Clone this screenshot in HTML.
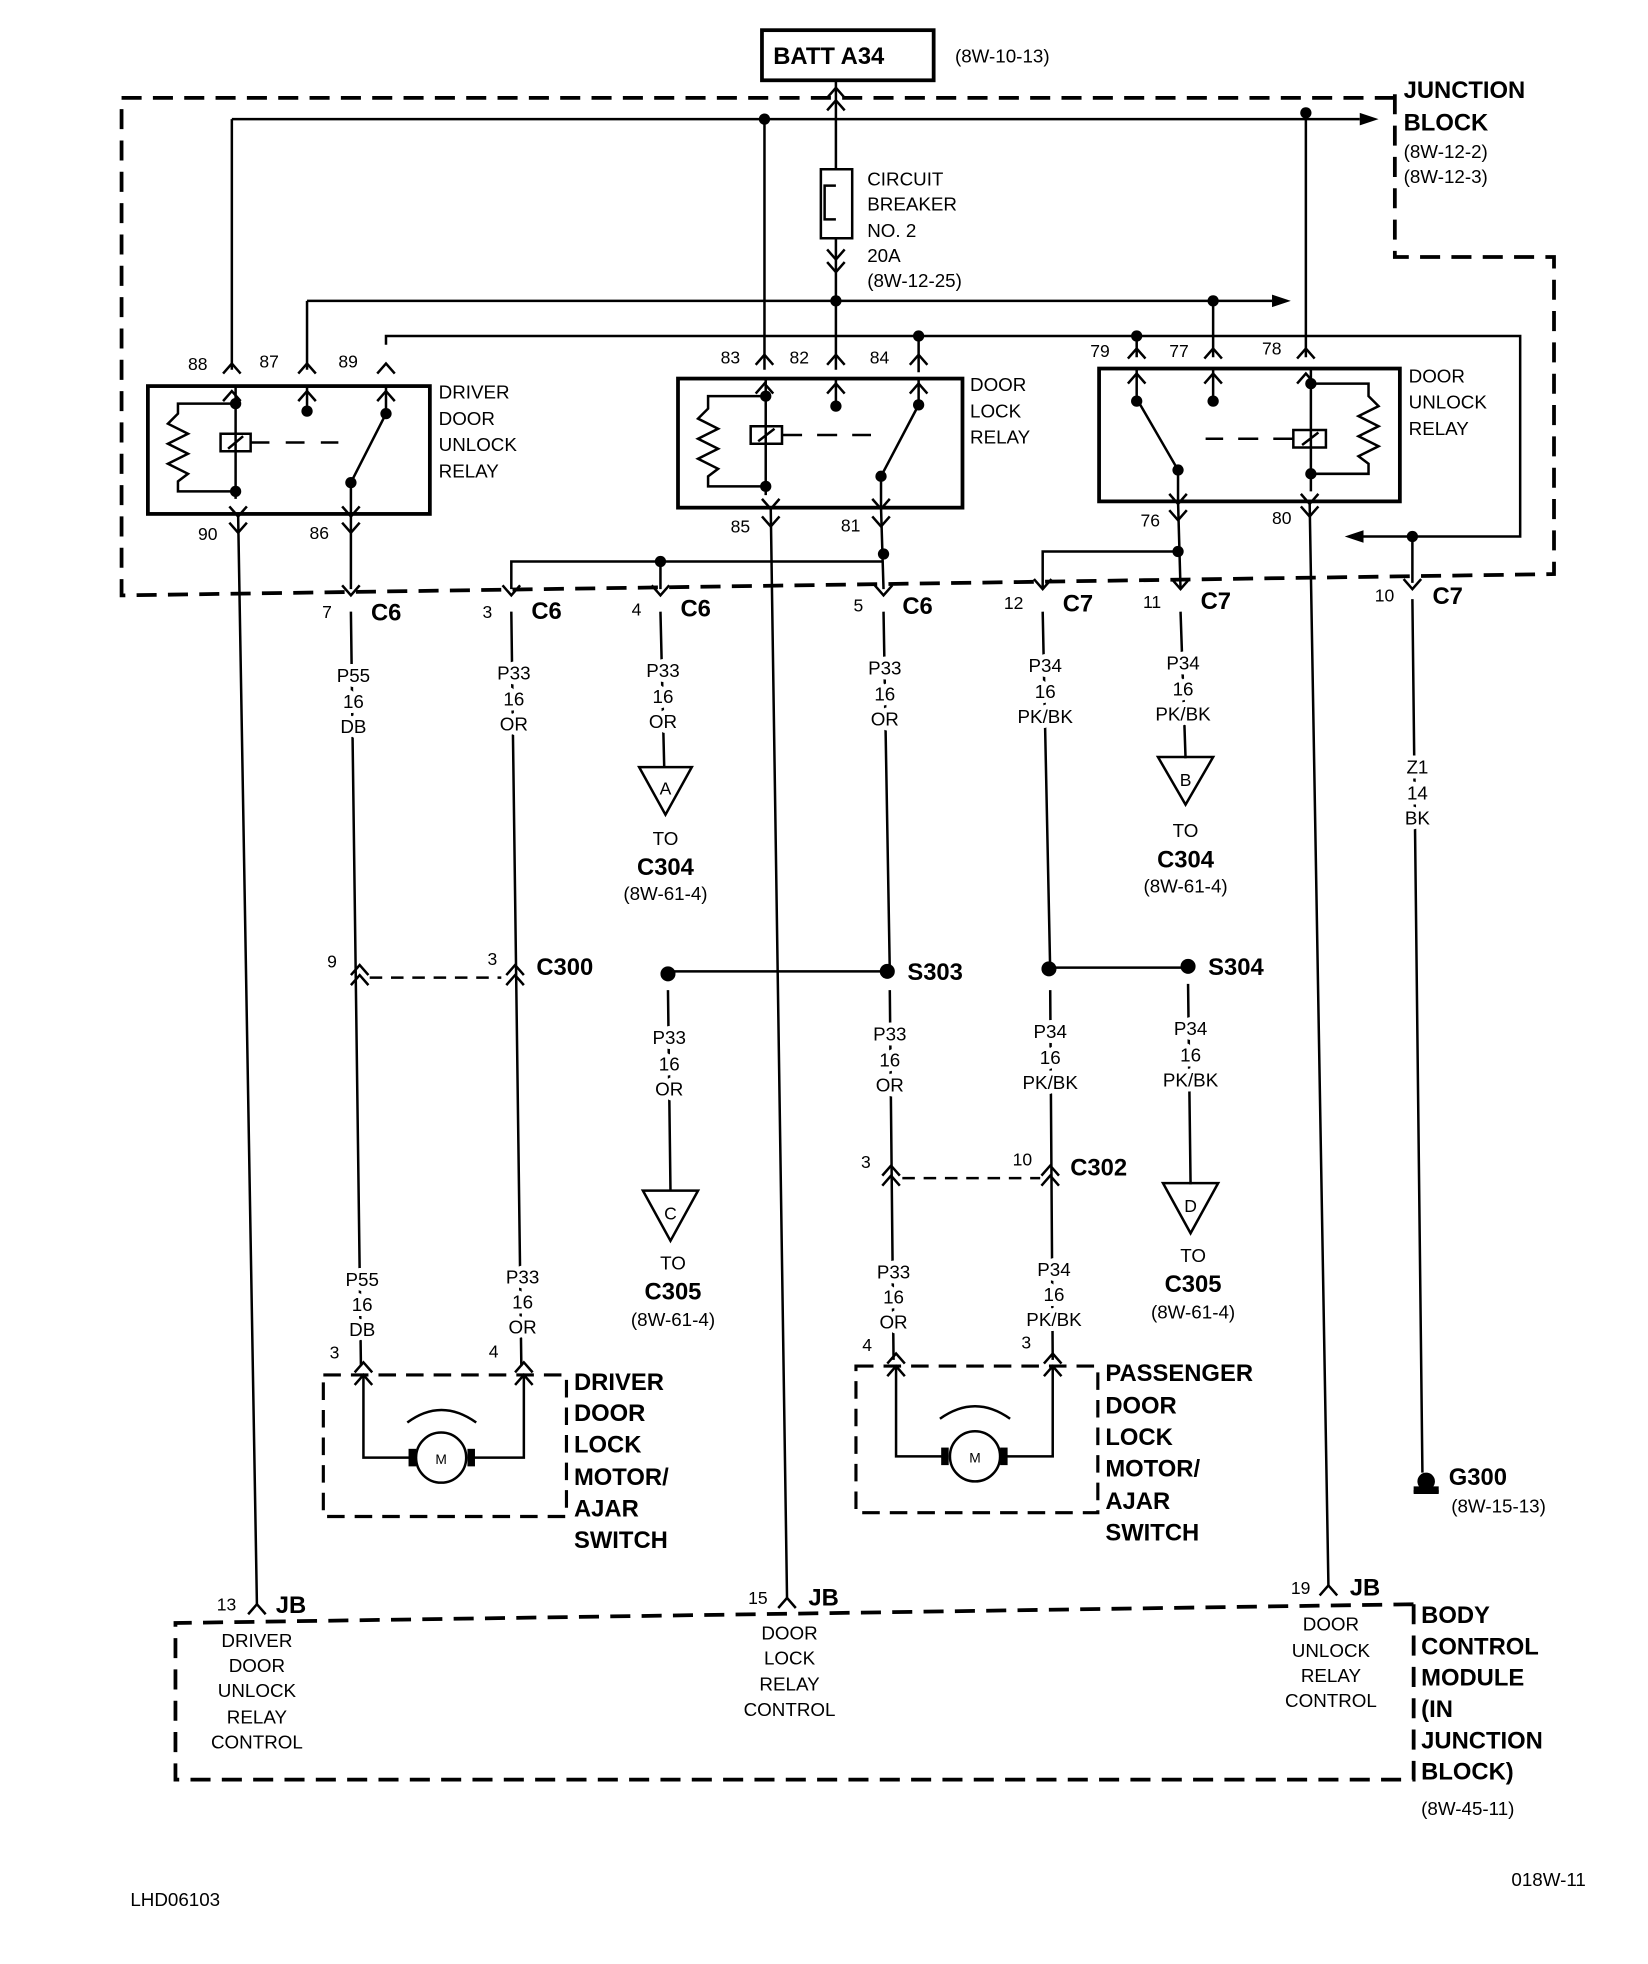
<!DOCTYPE html>
<html><head><meta charset="utf-8"><style>
html,body{margin:0;padding:0;background:#fff}
svg{display:block}
text{font-family:"Liberation Sans",Arial,sans-serif;fill:#000}
.s{font-size:15px}
.b{font-size:19px;font-weight:bold}
.p{font-size:14px}
.w text{paint-order:stroke;stroke:#fff;stroke-width:8px;stroke-linejoin:round}
</style></head><body>
<svg width="1648" height="1964" viewBox="0 0 1315 1567" xmlns="http://www.w3.org/2000/svg">
<defs>
<path id="v" d="M-7,-8 L0,0 L7,-8" fill="none" stroke="#000" stroke-width="2"/>
<path id="u" d="M-7,8 L0,0 L7,8" fill="none" stroke="#000" stroke-width="2"/>
</defs>
<g fill="none" stroke="#000" stroke-width="2">
<rect x="608" y="24" width="137" height="40" stroke-width="3"/>
<path d="M1113,78 L97,78 L97,475 L1240,458 L1240,205 L1113,205 L1113,70" stroke-width="3" stroke-dasharray="16,9"/>
<path d="M185,95 L1085,95 M185,95 L185,295 M610,95 L610,295 M1042,95 L1042,285"/>
<path d="M667,64 L667,135 M667,190 L667,295 M245,240 L1015,240 M245,240 L245,295 M968,240 L968,285"/>
<path d="M655,135 L680,135 L680,190 L655,190 Z M667,148 L658,148 L658,175 L667,175" />
<path d="M308,275 L308,268 L1213,268 L1213,428 L1085,428 M733,268 L733,297 M907,268 L907,285"/>
<rect x="118" y="308" width="225" height="102" stroke-width="3"/>
<rect x="541" y="302" width="227" height="103" stroke-width="3"/>
<rect x="877" y="294" width="240" height="106" stroke-width="3"/>
<path d="M188,308 L188,398 M188,322 L142,322 L142,330 L134,338 L150,346 L134,354 L150,362 L134,370 L150,378 L142,384 L142,392 L188,392 M176,346 L200,346 L200,360 L176,360 Z M182,358 L194,348 M200,353 L215,353 M228,353 L243,353 M256,353 L270,353 M245,308 L245,328 M308,308 L308,330 L280,385 L280,410"/>
<path d="M611,302 L611,395 M611,316 L565,316 L565,326 L557,334 L573,342 L557,350 L573,358 L557,366 L573,374 L565,380 L565,388 L611,388 M599,340 L624,340 L624,354 L599,354 Z M605,352 L618,342 M624,347 L640,347 M652,347 L668,347 M680,347 L695,347 M667,302 L667,322 M733,302 L733,323 L703,380 L703,405"/>
<path d="M1046,294 L1046,392 M1046,306 L1092,306 L1092,316 L1100,324 L1084,332 L1100,340 L1084,348 L1100,356 L1084,364 L1092,370 L1092,378 L1046,378 M1032,343 L1058,343 L1058,357 L1032,357 Z M1039,355 L1052,345 M1032,350 L1016,350 M1004,350 L988,350 M976,350 L962,350 M968,294 L968,318 M907,294 L907,318 L940,375 L940,400"/>
<path d="M190,410 L205,1280 M280,410 L280,470 M615,405 L628,1275 M703,405 L705,470 M1045,400 L1060,1265 M940,400 L942,470"/>
<path d="M408,470 L408,448 L705,448 M527,448 L527,470 M832,470 L832,440 L940,440 M1127,428 L1127,465"/>
<path d="M280,488 L288,1090 M408,488 L416,1090 M527,488 L530,612 M705,488 L710,775 M832,488 L838,775 M942,488 L946,605 M1127,478 L1135,1175"/>
<path d="M295,780 L400,780" stroke-dasharray="10,7"/>
<path d="M533,775 L710,775 M838,772 L948,772 M533,790 L535,950 M710,790 L713,1085 M838,790 L840,1085 M948,785 L950,945"/>
<path d="M720,940 L830,940" stroke-dasharray="10,7"/>
<path d="M510,612 L552,612 L531,650 Z M924,604 L968,604 L946,642 Z M513,950 L557,950 L535,990 Z M928,944 L972,944 L950,984 Z"/>
<path d="M258,1097 L452,1097 L452,1210 L258,1210 Z M683,1090 L876,1090 L876,1207 L683,1207 Z" stroke-dasharray="14,8" stroke-width="2.5"/>
<path d="M290,1097 L290,1163 L330,1163 M375,1163 L418,1163 L418,1097"/>
<path d="M715,1090 L715,1162 L755,1162 M800,1162 L840,1162 L840,1090"/>
<path d="M325,1135 Q352,1115 380,1135 M750,1132 Q778,1112 806,1132"/>
<path d="M1128,1280 L1128,1420 L140,1420 L140,1295 L1128,1280" stroke-dasharray="16,9" stroke-width="3"/>
<path d="M1128,1190 L1148,1190"/>
</g>
<g fill="#000">
<circle cx="610" cy="95" r="4.5"/><circle cx="1042" cy="90" r="4.5"/>
<circle cx="667" cy="240" r="4.5"/><circle cx="968" cy="240" r="4.5"/>
<circle cx="733" cy="268" r="4.5"/><circle cx="907" cy="268" r="4.5"/>
<circle cx="188" cy="322" r="4.5"/><circle cx="188" cy="392" r="4.5"/><circle cx="245" cy="328" r="4.5"/><circle cx="308" cy="330" r="4.5"/><circle cx="280" cy="385" r="4.5"/>
<circle cx="611" cy="316" r="4.5"/><circle cx="611" cy="388" r="4.5"/><circle cx="667" cy="324" r="4.5"/><circle cx="733" cy="323" r="4.5"/><circle cx="703" cy="380" r="4.5"/>
<circle cx="1046" cy="306" r="4.5"/><circle cx="1046" cy="378" r="4.5"/><circle cx="968" cy="320" r="4.5"/><circle cx="907" cy="320" r="4.5"/><circle cx="940" cy="375" r="4.5"/>
<circle cx="527" cy="448" r="4.5"/><circle cx="705" cy="442" r="4.5"/><circle cx="940" cy="440" r="4.5"/><circle cx="1127" cy="428" r="4.5"/>
<circle cx="533" cy="777" r="6"/><circle cx="708" cy="775" r="6"/><circle cx="837" cy="773" r="6"/><circle cx="948" cy="771" r="6"/>
<path d="M1085,90 L1100,95 L1085,100 Z M1015,235 L1030,240 L1015,245 Z M1088,423 L1073,428 L1088,433 Z"/>
<path d="M1128,1186 L1148,1186 L1148,1192 L1128,1192 Z" />
<circle cx="1138" cy="1182" r="7"/>
<rect x="326" y="1156" width="6" height="14"/><rect x="373" y="1156" width="6" height="14"/>
<rect x="751" y="1155" width="6" height="14"/><rect x="798" y="1155" width="6" height="14"/>
</g>
<circle cx="352" cy="1163" r="20" fill="#fff" stroke="#000" stroke-width="2"/>
<circle cx="778" cy="1162" r="20" fill="#fff" stroke="#000" stroke-width="2"/>
<g>
<use href="#u" x="667" y="70"/><use href="#u" x="667" y="80"/><use href="#v" x="667" y="207"/><use href="#v" x="667" y="217"/>
<use href="#u" x="185" y="290"/><use href="#u" x="245" y="290"/><use href="#u" x="308" y="290"/>
<use href="#u" x="185" y="312"/><use href="#u" x="245" y="312"/><use href="#u" x="308" y="312"/>
<use href="#u" x="610" y="283"/><use href="#u" x="667" y="283"/><use href="#u" x="733" y="283"/>
<use href="#u" x="610" y="306"/><use href="#u" x="667" y="306"/><use href="#u" x="733" y="306"/>
<use href="#u" x="907" y="278"/><use href="#u" x="968" y="278"/><use href="#u" x="1042" y="278"/>
<use href="#u" x="907" y="298"/><use href="#u" x="968" y="298"/><use href="#u" x="1042" y="298"/>
<use href="#v" x="190" y="412"/><use href="#v" x="280" y="412"/><use href="#v" x="190" y="425"/><use href="#v" x="280" y="425"/>
<use href="#v" x="615" y="406"/><use href="#v" x="703" y="406"/><use href="#v" x="615" y="420"/><use href="#v" x="703" y="420"/>
<use href="#v" x="940" y="402"/><use href="#v" x="1045" y="402"/><use href="#v" x="940" y="415"/><use href="#v" x="1045" y="412"/>
<use href="#v" x="280" y="475"/><use href="#v" x="408" y="475"/><use href="#v" x="527" y="475"/><use href="#v" x="705" y="475"/><use href="#v" x="832" y="470"/><use href="#v" x="942" y="470"/><use href="#v" x="1127" y="470"/>
<use href="#u" x="287" y="770"/><use href="#u" x="287" y="778"/><use href="#u" x="411" y="770"/><use href="#u" x="411" y="778"/>
<use href="#u" x="711" y="930"/><use href="#u" x="711" y="938"/><use href="#u" x="838" y="930"/><use href="#u" x="838" y="938"/>
<use href="#u" x="290" y="1087"/><use href="#u" x="290" y="1097"/><use href="#u" x="418" y="1087"/><use href="#u" x="418" y="1097"/>
<use href="#u" x="715" y="1080"/><use href="#u" x="715" y="1090"/><use href="#u" x="840" y="1080"/><use href="#u" x="840" y="1090"/>
<use href="#u" x="205" y="1280"/><use href="#u" x="628" y="1275"/><use href="#u" x="1060" y="1265"/>
</g>
<text class="b" x="617" y="51">BATT A34</text>
<text class="s" x="762" y="50">(8W-10-13)</text>
<text class="b" x="1120" y="78">JUNCTION</text><text class="b" x="1120" y="104">BLOCK</text>
<text class="s" x="1120" y="126">(8W-12-2)</text><text class="s" x="1120" y="146">(8W-12-3)</text>
<text class="s" x="692" y="148">CIRCUIT</text><text class="s" x="692" y="168">BREAKER</text><text class="s" x="692" y="189">NO. 2</text><text class="s" x="692" y="209">20A</text><text class="s" x="692" y="229">(8W-12-25)</text>
<text class="p" x="150" y="295">88</text><text class="p" x="207" y="293">87</text><text class="p" x="270" y="293">89</text>
<text class="p" x="575" y="290">83</text><text class="p" x="630" y="290">82</text><text class="p" x="694" y="290">84</text>
<text class="p" x="870" y="285">79</text><text class="p" x="933" y="285">77</text><text class="p" x="1007" y="283">78</text>
<text class="s" x="350" y="318">DRIVER</text><text class="s" x="350" y="339">DOOR</text><text class="s" x="350" y="360">UNLOCK</text><text class="s" x="350" y="381">RELAY</text>
<text class="s" x="774" y="312">DOOR</text><text class="s" x="774" y="333">LOCK</text><text class="s" x="774" y="354">RELAY</text>
<text class="s" x="1124" y="305">DOOR</text><text class="s" x="1124" y="326">UNLOCK</text><text class="s" x="1124" y="347">RELAY</text>
<text class="p" x="158" y="431">90</text><text class="p" x="247" y="430">86</text><text class="p" x="583" y="425">85</text><text class="p" x="671" y="424">81</text><text class="p" x="910" y="420">76</text><text class="p" x="1015" y="418">80</text>
<text class="p" x="257" y="493">7</text><text class="b" x="296" y="495">C6</text>
<text class="p" x="385" y="493">3</text><text class="b" x="424" y="494">C6</text>
<text class="p" x="504" y="491">4</text><text class="b" x="543" y="492">C6</text>
<text class="p" x="681" y="488">5</text><text class="b" x="720" y="490">C6</text>
<text class="p" x="801" y="486">12</text><text class="b" x="848" y="488">C7</text>
<text class="p" x="912" y="485">11</text><text class="b" x="958" y="486">C7</text>
<text class="p" x="1097" y="480">10</text><text class="b" x="1143" y="482">C7</text>
<g class="s w" text-anchor="middle">
<text x="282" y="544">P55</text><text x="282" y="565">16</text><text x="282" y="585">DB</text>
<text x="410" y="542">P33</text><text x="410" y="563">16</text><text x="410" y="583">OR</text>
<text x="529" y="540">P33</text><text x="529" y="561">16</text><text x="529" y="581">OR</text>
<text x="706" y="538">P33</text><text x="706" y="559">16</text><text x="706" y="579">OR</text>
<text x="834" y="536">P34</text><text x="834" y="557">16</text><text x="834" y="577">PK/BK</text>
<text x="944" y="534">P34</text><text x="944" y="555">16</text><text x="944" y="575">PK/BK</text>
<text x="1131" y="617">Z1</text><text x="1131" y="638">14</text><text x="1131" y="658">BK</text>
<text x="534" y="833">P33</text><text x="534" y="854">16</text><text x="534" y="874">OR</text>
<text x="710" y="830">P33</text><text x="710" y="851">16</text><text x="710" y="871">OR</text>
<text x="838" y="828">P34</text><text x="838" y="849">16</text><text x="838" y="869">PK/BK</text>
<text x="950" y="826">P34</text><text x="950" y="847">16</text><text x="950" y="867">PK/BK</text>
<text x="289" y="1026">P55</text><text x="289" y="1046">16</text><text x="289" y="1066">DB</text>
<text x="417" y="1024">P33</text><text x="417" y="1044">16</text><text x="417" y="1064">OR</text>
<text x="713" y="1020">P33</text><text x="713" y="1040">16</text><text x="713" y="1060">OR</text>
<text x="841" y="1018">P34</text><text x="841" y="1038">16</text><text x="841" y="1058">PK/BK</text>
</g>
<g class="s" text-anchor="middle">
<text x="531" y="634" class="p">A</text><text x="946" y="627" class="p">B</text><text x="535" y="973" class="p">C</text><text x="950" y="967" class="p">D</text>
<text x="531" y="674">TO</text><text x="531" y="698" class="b">C304</text><text x="531" y="718">(8W-61-4)</text>
<text x="946" y="668">TO</text><text x="946" y="692" class="b">C304</text><text x="946" y="712">(8W-61-4)</text>
<text x="537" y="1013">TO</text><text x="537" y="1037" class="b">C305</text><text x="537" y="1058">(8W-61-4)</text>
<text x="952" y="1007">TO</text><text x="952" y="1031" class="b">C305</text><text x="952" y="1052">(8W-61-4)</text>
<text x="352" y="1168" style="font-size:11px">M</text><text x="778" y="1167" style="font-size:11px">M</text>
<text x="205" y="1314">DRIVER</text><text x="205" y="1334">DOOR</text><text x="205" y="1354">UNLOCK</text><text x="205" y="1375">RELAY</text><text x="205" y="1395">CONTROL</text>
<text x="630" y="1308">DOOR</text><text x="630" y="1328">LOCK</text><text x="630" y="1349">RELAY</text><text x="630" y="1369">CONTROL</text>
<text x="1062" y="1301">DOOR</text><text x="1062" y="1322">UNLOCK</text><text x="1062" y="1342">RELAY</text><text x="1062" y="1362">CONTROL</text>
</g>
<text class="p" x="261" y="772">9</text><text class="p" x="389" y="770">3</text><text class="b" x="428" y="778">C300</text>
<text class="b" x="724" y="782">S303</text><text class="b" x="964" y="778">S304</text>
<text class="p" x="687" y="932">3</text><text class="p" x="808" y="930">10</text><text class="b" x="854" y="938">C302</text>
<text class="p" x="263" y="1084">3</text><text class="p" x="390" y="1083">4</text><text class="p" x="688" y="1078">4</text><text class="p" x="815" y="1076">3</text>
<text class="b" x="458" y="1109">DRIVER</text><text class="b" x="458" y="1134">DOOR</text><text class="b" x="458" y="1159">LOCK</text><text class="b" x="458" y="1185">MOTOR/</text><text class="b" x="458" y="1210">AJAR</text><text class="b" x="458" y="1235">SWITCH</text>
<text class="b" x="882" y="1102">PASSENGER</text><text class="b" x="882" y="1128">DOOR</text><text class="b" x="882" y="1153">LOCK</text><text class="b" x="882" y="1178">MOTOR/</text><text class="b" x="882" y="1204">AJAR</text><text class="b" x="882" y="1229">SWITCH</text>
<text class="b" x="1156" y="1185">G300</text><text class="s" x="1158" y="1207">(8W-15-13)</text>
<text class="p" x="173" y="1285">13</text><text class="b" x="220" y="1287">JB</text>
<text class="p" x="597" y="1280">15</text><text class="b" x="645" y="1281">JB</text>
<text class="p" x="1030" y="1272">19</text><text class="b" x="1077" y="1273">JB</text>
<text class="b" x="1134" y="1295">BODY</text><text class="b" x="1134" y="1320">CONTROL</text><text class="b" x="1134" y="1345">MODULE</text><text class="b" x="1134" y="1370">(IN</text><text class="b" x="1134" y="1395">JUNCTION</text><text class="b" x="1134" y="1420">BLOCK)</text>
<text class="s" x="1134" y="1448">(8W-45-11)</text>
<text class="s" x="104" y="1521">LHD06103</text><text class="s" x="1206" y="1505">018W-11</text>
</svg>
</body></html>
